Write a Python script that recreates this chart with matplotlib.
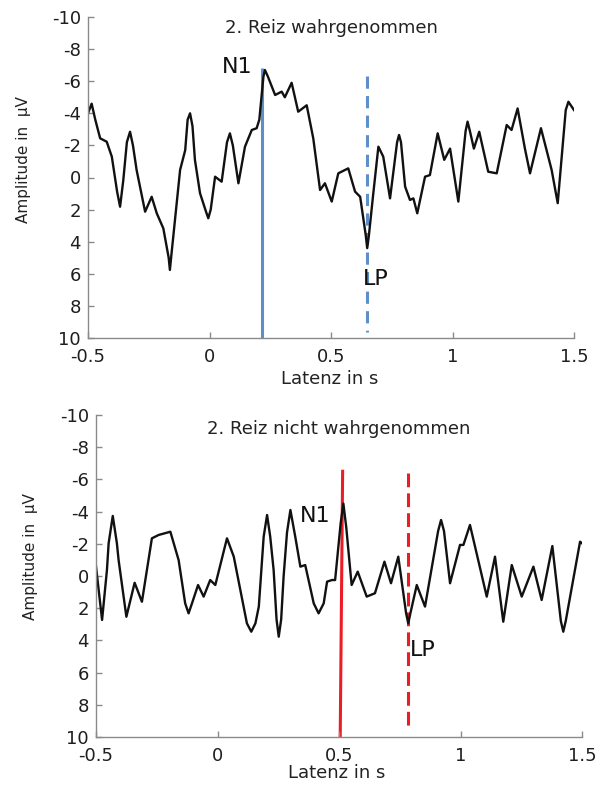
import matplotlib
matplotlib.use("Agg")
import matplotlib.pyplot as plt

# ---------------- data ----------------
t_top = [-0.5, -0.485, -0.47, -0.45, -0.423, -0.402, -0.38, -0.368, -0.355, -0.34, -0.327,
         -0.315, -0.30, -0.265, -0.238, -0.217, -0.19, -0.168, -0.163, -0.158, -0.121,
         -0.10, -0.09, -0.08, -0.07, -0.06, -0.039, -0.015, -0.005, 0.005, 0.023,
         0.05, 0.072, 0.084, 0.096, 0.119, 0.146, 0.174, 0.194, 0.205, 0.222, 0.228,
         0.24, 0.27, 0.297, 0.31, 0.338, 0.365, 0.40, 0.427, 0.455, 0.475, 0.503, 0.53,
         0.571, 0.599, 0.62, 0.643, 0.649, 0.656, 0.674, 0.695, 0.715, 0.743, 0.772,
         0.78, 0.788, 0.805, 0.825, 0.839, 0.855, 0.887, 0.907, 0.939, 0.966, 0.99,
         1.024, 1.054, 1.062, 1.07, 1.088, 1.11, 1.147, 1.182, 1.223, 1.243, 1.268,
         1.298, 1.319, 1.364, 1.408, 1.433, 1.466, 1.477, 1.5]
v_top = [-4.0, -4.6, -3.6, -2.44, -2.23, -1.3, 0.9, 1.82, 0.2, -2.2, -2.85,
         -2.0, -0.47, 2.13, 1.2, 2.23, 3.17, 5.0, 5.76, 5.0, -0.47,
         -1.7, -3.6, -4.0, -3.2, -1.1, 0.98, 2.1, 2.54, 2.0, -0.05,
         0.26, -2.2, -2.75, -2.0, 0.36, -1.92, -2.96, -3.07, -3.6, -6.3, -6.7,
         -6.3, -5.14, -5.35, -5.0, -5.9, -4.1, -4.5, -2.44, 0.78, 0.36, 1.5, -0.26,
         -0.57, 0.88, 1.2, 3.6, 4.4, 3.6, 1.0, -1.92, -1.3, 1.3, -2.2,
         -2.65, -2.2, 0.57, 1.4, 1.3, 2.23, -0.05, -0.15, -2.75, -1.1, -1.8,
         1.5, -2.9, -3.48, -3.0, -1.8, -2.85, -0.36, -0.26, -3.27, -2.96, -4.3,
         -1.8, -0.26, -3.07, -0.47, 1.6, -4.2, -4.72, -4.2]

t_bot = [-0.5, -0.475, -0.455, -0.448, -0.431, -0.414, -0.407, -0.375, -0.341, -0.311,
         -0.27, -0.242, -0.194, -0.16, -0.133, -0.119, -0.105, -0.08, -0.057, -0.03,
         -0.009, 0.039, 0.067, 0.121, 0.139, 0.156, 0.17, 0.19, 0.204, 0.217, 0.231,
         0.243, 0.252, 0.262, 0.272, 0.286, 0.30, 0.32, 0.341, 0.361, 0.396, 0.416,
         0.437, 0.451, 0.471, 0.484, 0.507, 0.518, 0.53, 0.552, 0.577, 0.614, 0.648,
         0.687, 0.714, 0.744, 0.776, 0.785, 0.794, 0.82, 0.854, 0.908, 0.92, 0.932,
         0.957, 0.998, 1.012, 1.039, 1.108, 1.142, 1.176, 1.211, 1.252, 1.30, 1.334,
         1.378, 1.413, 1.423, 1.433, 1.492, 1.5]
v_bot = [-0.6, 2.73, -0.37, -2.03, -3.73, -2.03, -0.99, 2.53, 0.42, 1.6,
         -2.34, -2.55, -2.75, -0.99, 1.7, 2.32, 1.7, 0.56, 1.28, 0.25,
         0.56, -2.34, -1.2, 2.94, 3.46, 2.94, 1.9, -2.44, -3.79, -2.44, -0.37,
         2.7, 3.77, 2.7, 0.04, -2.7, -4.1, -2.44, -0.58, -0.68, 1.7, 2.32,
         1.7, 0.35, 0.25, 0.25, -3.3, -4.5, -3.0, 0.56, -0.27, 1.28, 1.07,
         -0.89, 0.45, -1.2, 2.3, 2.94, 2.3, 0.56, 1.9, -2.8, -3.48, -2.8,
         0.45, -1.93, -1.93, -3.17, 1.28, -1.2, 2.84, -0.68, 1.28, -0.58, 1.49,
         -1.86, 2.8, 3.46, 2.8, -2.13, -2.03]

# marker lines (x positions, y extents)
n1_top_x = [0.218, 0.218]
n1_top_y = [-6.8, 10.0]
lp_top_x = [0.649, 0.649]
lp_top_y = [-6.3, 9.6]
n1_bot_x = [0.515, 0.505]
n1_bot_y = [-6.6, 10.0]
lp_bot_x = [0.783, 0.783]
lp_bot_y = [-6.4, 9.4]

titles = ["2. Reiz wahrgenommen", "2. Reiz nicht wahrgenommen"]
xticks = [-0.5, 0, 0.5, 1, 1.5]
xticklabels = ["-0.5", "0", "0.5", "1", "1.5"]
yticks = [-10, -8, -6, -4, -2, 0, 2, 4, 6, 8, 10]
yticklabels = ["-10", "-8", "-6", "-4", "-2", "0", "2", "4", "6", "8", "10"]

# label positions (data coords)
n1_top_pos = (0.113, -6.9)
lp_top_pos = (0.685, 6.3)
n1_bot_pos = (0.401, -3.7)
lp_bot_pos = (0.846, 4.6)

# ---------------- figure ----------------
W, H = 603, 787
fig = plt.figure(figsize=(W / 100, H / 100), dpi=100)
plt.rcParams['font.family'] = ['DejaVu Sans']

def px_rect(l, t, r, b):
    return [l / W, 1 - b / H, (r - l) / W, (b - t) / H]

ax1 = fig.add_axes(px_rect(88, 17, 574, 338))
ax2 = fig.add_axes(px_rect(96, 415, 582, 737))

blue = '#5f8fc9'
red = '#ec1c24'
grey = '#8a8a8a'

def style(ax):
    ax.set_xlim(-0.5, 1.5)
    ax.set_ylim(10, -10)
    for s in ['top', 'right']:
        ax.spines[s].set_visible(False)
    for s in ['left', 'bottom']:
        ax.spines[s].set_color(grey)
        ax.spines[s].set_linewidth(1.0)
    ax.set_xticks(xticks)
    ax.set_xticklabels(xticklabels)
    ax.set_yticks(yticks)
    ax.set_yticklabels(yticklabels)
    ax.tick_params(direction='in', length=4, width=1, color=grey,
                   labelsize=13, labelcolor='#1e1e1e')
    ax.tick_params(axis='y', pad=5)
    ax.tick_params(axis='x', pad=7)
    ax.patch.set_visible(False)

style(ax1)
style(ax2)

# top panel
ax1.plot(n1_top_x, n1_top_y, color=blue, lw=2.2, solid_capstyle='butt', zorder=1)
ax1.plot(lp_top_x, lp_top_y, color=blue, lw=2.2, linestyle=(0, (4, 2.4)), zorder=1)
ax1.plot(t_top, v_top, color='#111111', lw=1.7, solid_joinstyle='round', zorder=2)
ax1.text(*n1_top_pos, "N1", fontsize=16, ha='center', va='center', color='#111111')
ax1.text(*lp_top_pos, "LP", fontsize=16, ha='center', va='center', color='#111111')
ax1.text(0.5, 0.966, titles[0], transform=ax1.transAxes, fontsize=13,
         ha='center', va='center', color='#222222')

# bottom panel
ax2.plot(n1_bot_x, n1_bot_y, color=red, lw=2.2, solid_capstyle='butt', zorder=1)
ax2.plot(lp_bot_x, lp_bot_y, color=red, lw=2.2, linestyle=(0, (4.5, 2.0)), zorder=1)
ax2.plot(t_bot, v_bot, color='#111111', lw=1.7, solid_joinstyle='round', zorder=2)
ax2.text(*n1_bot_pos, "N1", fontsize=16, ha='center', va='center', color='#111111')
ax2.text(*lp_bot_pos, "LP", fontsize=16, ha='center', va='center', color='#111111')
ax2.text(0.5, 0.957, titles[1], transform=ax2.transAxes, fontsize=13,
         ha='center', va='center', color='#222222')

# axis labels
def ftext(x, y, s, **kw):
    fig.text(x / W, 1 - y / H, s, ha='center', va='center', color='#222222', **kw)

ftext(24, 160, "Amplitude in  \u03bcV", rotation=90, fontsize=11)
ftext(31, 557, "Amplitude in  \u03bcV", rotation=90, fontsize=11)
ftext(330, 379, "Latenz in s", fontsize=13)
ftext(337, 773, "Latenz in s", fontsize=13)

fig.savefig("out.png", dpi=100)
